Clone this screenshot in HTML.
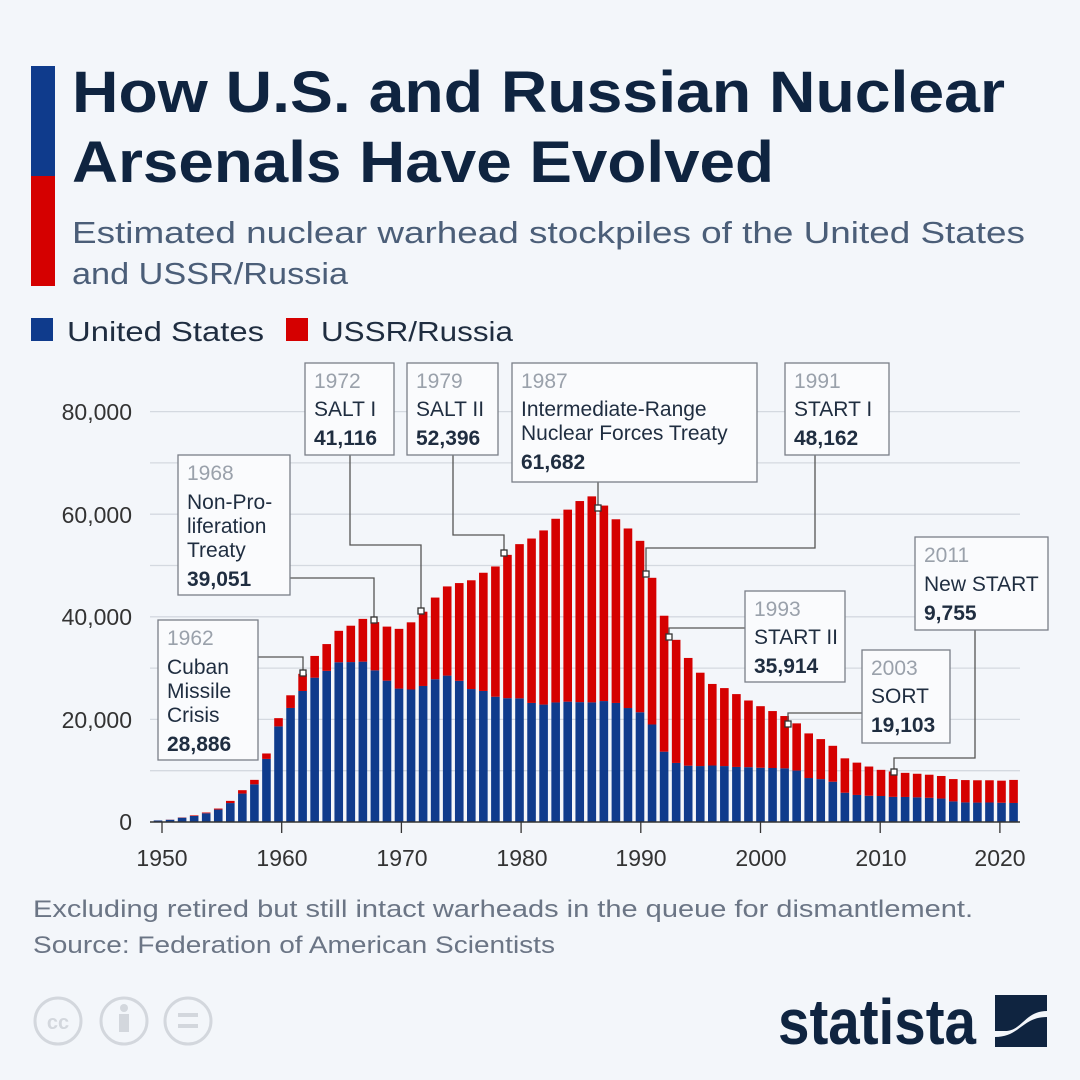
<!DOCTYPE html>
<html><head><meta charset="utf-8"><style>
html,body{margin:0;padding:0;background:#f3f6fa;}
svg{display:block;font-family:"Liberation Sans",sans-serif;}
</style></head><body>
<svg width="1080" height="1080" viewBox="0 0 1080 1080" xmlns="http://www.w3.org/2000/svg">
<rect width="1080" height="1080" fill="#f3f6fa"/>
<rect x="31" y="66" width="24" height="110" fill="#0f3b8c"/>
<rect x="31" y="176" width="24" height="110" fill="#d50000"/>
<text x="72" y="112" font-size="58" font-weight="bold" fill="#0f2440" textLength="933" lengthAdjust="spacingAndGlyphs">How U.S. and Russian Nuclear</text>
<text x="72" y="182" font-size="58" font-weight="bold" fill="#0f2440" textLength="702" lengthAdjust="spacingAndGlyphs">Arsenals Have Evolved</text>
<text x="72" y="243" font-size="31" fill="#4b5e78" textLength="953" lengthAdjust="spacingAndGlyphs">Estimated nuclear warhead stockpiles of the United States</text>
<text x="72" y="284" font-size="31" fill="#4b5e78" textLength="276" lengthAdjust="spacingAndGlyphs">and USSR/Russia</text>
<rect x="31" y="318" width="22" height="23" fill="#0f3b8c"/>
<text x="67" y="341" font-size="28" fill="#1f2d40" textLength="197" lengthAdjust="spacingAndGlyphs">United States</text>
<rect x="286" y="318" width="22" height="23" fill="#d50000"/>
<text x="321" y="341" font-size="28" fill="#1f2d40" textLength="192" lengthAdjust="spacingAndGlyphs">USSR/Russia</text>
<g stroke="#d4d9e0" stroke-width="1.3">
<line x1="150" x2="1020" y1="770.7" y2="770.7"/><line x1="150" x2="1020" y1="719.4" y2="719.4"/><line x1="150" x2="1020" y1="668.1" y2="668.1"/><line x1="150" x2="1020" y1="616.8" y2="616.8"/><line x1="150" x2="1020" y1="565.5" y2="565.5"/><line x1="150" x2="1020" y1="514.2" y2="514.2"/><line x1="150" x2="1020" y1="462.9" y2="462.9"/><line x1="150" x2="1020" y1="411.6" y2="411.6"/>
</g>
<g font-size="23" fill="#333" text-anchor="end">
<text x="132" y="420">80,000</text><text x="132" y="523">60,000</text><text x="132" y="625">40,000</text><text x="132" y="728">20,000</text><text x="132" y="830">0</text>
</g>
<g transform="translate(153.7,822) scale(12.05,-0.00513)" fill="#0f3b8c">
<rect x="0" y="0" width=".714" height="299"/><rect x="1" y="0" width=".714" height="438"/><rect x="2" y="0" width=".714" height="841"/><rect x="3" y="0" width=".714" height="1169"/><rect x="4" y="0" width=".714" height="1703"/><rect x="5" y="0" width=".714" height="2422"/><rect x="6" y="0" width=".714" height="3692"/><rect x="7" y="0" width=".714" height="5543"/><rect x="8" y="0" width=".714" height="7345"/><rect x="9" y="0" width=".714" height="12298"/><rect x="10" y="0" width=".714" height="18638"/><rect x="11" y="0" width=".714" height="22229"/><rect x="12" y="0" width=".714" height="25540"/><rect x="13" y="0" width=".714" height="28133"/><rect x="14" y="0" width=".714" height="29463"/><rect x="15" y="0" width=".714" height="31139"/><rect x="16" y="0" width=".714" height="31175"/><rect x="17" y="0" width=".714" height="31255"/><rect x="18" y="0" width=".714" height="29561"/><rect x="19" y="0" width=".714" height="27552"/><rect x="20" y="0" width=".714" height="26008"/><rect x="21" y="0" width=".714" height="25830"/><rect x="22" y="0" width=".714" height="26516"/><rect x="23" y="0" width=".714" height="27835"/><rect x="24" y="0" width=".714" height="28537"/><rect x="25" y="0" width=".714" height="27519"/><rect x="26" y="0" width=".714" height="25914"/><rect x="27" y="0" width=".714" height="25542"/><rect x="28" y="0" width=".714" height="24418"/><rect x="29" y="0" width=".714" height="24138"/><rect x="30" y="0" width=".714" height="24104"/><rect x="31" y="0" width=".714" height="23208"/><rect x="32" y="0" width=".714" height="22886"/><rect x="33" y="0" width=".714" height="23305"/><rect x="34" y="0" width=".714" height="23459"/><rect x="35" y="0" width=".714" height="23368"/><rect x="36" y="0" width=".714" height="23317"/><rect x="37" y="0" width=".714" height="23575"/><rect x="38" y="0" width=".714" height="23205"/><rect x="39" y="0" width=".714" height="22217"/><rect x="40" y="0" width=".714" height="21392"/><rect x="41" y="0" width=".714" height="19008"/><rect x="42" y="0" width=".714" height="13708"/><rect x="43" y="0" width=".714" height="11511"/><rect x="44" y="0" width=".714" height="10979"/><rect x="45" y="0" width=".714" height="10904"/><rect x="46" y="0" width=".714" height="11011"/><rect x="47" y="0" width=".714" height="10903"/><rect x="48" y="0" width=".714" height="10732"/><rect x="49" y="0" width=".714" height="10685"/><rect x="50" y="0" width=".714" height="10577"/><rect x="51" y="0" width=".714" height="10526"/><rect x="52" y="0" width=".714" height="10457"/><rect x="53" y="0" width=".714" height="10027"/><rect x="54" y="0" width=".714" height="8570"/><rect x="55" y="0" width=".714" height="8360"/><rect x="56" y="0" width=".714" height="7853"/><rect x="57" y="0" width=".714" height="5709"/><rect x="58" y="0" width=".714" height="5273"/><rect x="59" y="0" width=".714" height="5113"/><rect x="60" y="0" width=".714" height="5066"/><rect x="61" y="0" width=".714" height="4897"/><rect x="62" y="0" width=".714" height="4881"/><rect x="63" y="0" width=".714" height="4804"/><rect x="64" y="0" width=".714" height="4717"/><rect x="65" y="0" width=".714" height="4571"/><rect x="66" y="0" width=".714" height="4018"/><rect x="67" y="0" width=".714" height="3822"/><rect x="68" y="0" width=".714" height="3785"/><rect x="69" y="0" width=".714" height="3805"/><rect x="70" y="0" width=".714" height="3750"/><rect x="71" y="0" width=".714" height="3708"/>
</g>
<g transform="translate(153.7,822) scale(12.05,-0.00513)" fill="#d50000">
<rect x="0" y="299" width=".714" height="5"/><rect x="1" y="438" width=".714" height="25"/><rect x="2" y="841" width=".714" height="50"/><rect x="3" y="1169" width=".714" height="120"/><rect x="4" y="1703" width=".714" height="150"/><rect x="5" y="2422" width=".714" height="200"/><rect x="6" y="3692" width=".714" height="426"/><rect x="7" y="5543" width=".714" height="660"/><rect x="8" y="7345" width=".714" height="869"/><rect x="9" y="12298" width=".714" height="1060"/><rect x="10" y="18638" width=".714" height="1605"/><rect x="11" y="22229" width=".714" height="2471"/><rect x="12" y="25540" width=".714" height="3346"/><rect x="13" y="28133" width=".714" height="4238"/><rect x="14" y="29463" width=".714" height="5221"/><rect x="15" y="31139" width=".714" height="6129"/><rect x="16" y="31175" width=".714" height="7089"/><rect x="17" y="31255" width=".714" height="8339"/><rect x="18" y="29561" width=".714" height="9399"/><rect x="19" y="27552" width=".714" height="10538"/><rect x="20" y="26008" width=".714" height="11643"/><rect x="21" y="25830" width=".714" height="13092"/><rect x="22" y="26516" width=".714" height="14478"/><rect x="23" y="27835" width=".714" height="15915"/><rect x="24" y="28537" width=".714" height="17385"/><rect x="25" y="27519" width=".714" height="19055"/><rect x="26" y="25914" width=".714" height="21205"/><rect x="27" y="25542" width=".714" height="23044"/><rect x="28" y="24418" width=".714" height="25393"/><rect x="29" y="24138" width=".714" height="27935"/><rect x="30" y="24104" width=".714" height="30062"/><rect x="31" y="23208" width=".714" height="32049"/><rect x="32" y="22886" width=".714" height="33952"/><rect x="33" y="23305" width=".714" height="35804"/><rect x="34" y="23459" width=".714" height="37431"/><rect x="35" y="23368" width=".714" height="39197"/><rect x="36" y="23317" width=".714" height="40159"/><rect x="37" y="23575" width=".714" height="38107"/><rect x="38" y="23205" width=".714" height="35805"/><rect x="39" y="22217" width=".714" height="35000"/><rect x="40" y="21392" width=".714" height="33417"/><rect x="41" y="19008" width=".714" height="28595"/><rect x="42" y="13708" width=".714" height="26500"/><rect x="43" y="11511" width=".714" height="24000"/><rect x="44" y="10979" width=".714" height="21000"/><rect x="45" y="10904" width=".714" height="18200"/><rect x="46" y="11011" width=".714" height="15900"/><rect x="47" y="10903" width=".714" height="15200"/><rect x="48" y="10732" width=".714" height="14200"/><rect x="49" y="10685" width=".714" height="13000"/><rect x="50" y="10577" width=".714" height="12000"/><rect x="51" y="10526" width=".714" height="11100"/><rect x="52" y="10457" width=".714" height="10200"/><rect x="53" y="10027" width=".714" height="9200"/><rect x="54" y="8570" width=".714" height="8700"/><rect x="55" y="8360" width=".714" height="7800"/><rect x="56" y="7853" width=".714" height="7000"/><rect x="57" y="5709" width=".714" height="6700"/><rect x="58" y="5273" width=".714" height="6300"/><rect x="59" y="5113" width=".714" height="5700"/><rect x="60" y="5066" width=".714" height="5100"/><rect x="61" y="4897" width=".714" height="4950"/><rect x="62" y="4881" width=".714" height="4700"/><rect x="63" y="4804" width=".714" height="4600"/><rect x="64" y="4717" width=".714" height="4500"/><rect x="65" y="4571" width=".714" height="4400"/><rect x="66" y="4018" width=".714" height="4350"/><rect x="67" y="3822" width=".714" height="4350"/><rect x="68" y="3785" width=".714" height="4350"/><rect x="69" y="3805" width=".714" height="4330"/><rect x="70" y="3750" width=".714" height="4310"/><rect x="71" y="3708" width=".714" height="4495"/>
</g>
<line x1="150" y1="822" x2="1020" y2="822" stroke="#333" stroke-width="1.5"/>
<g stroke="#333" stroke-width="1.3">
<line x1="162" x2="162" y1="822" y2="833"/><line x1="281.7" x2="281.7" y1="822" y2="833"/><line x1="401.4" x2="401.4" y1="822" y2="833"/><line x1="521.1" x2="521.1" y1="822" y2="833"/><line x1="640.8" x2="640.8" y1="822" y2="833"/><line x1="760.5" x2="760.5" y1="822" y2="833"/><line x1="880.2" x2="880.2" y1="822" y2="833"/><line x1="999.9" x2="999.9" y1="822" y2="833"/>
</g>
<g font-size="23" fill="#333" text-anchor="middle">
<text x="162" y="866">1950</text><text x="282" y="866">1960</text><text x="402" y="866">1970</text><text x="522" y="866">1980</text><text x="641" y="866">1990</text><text x="761" y="866">2000</text><text x="881" y="866">2010</text><text x="1000" y="866">2020</text>
</g>
<g fill="none" stroke="#555" stroke-width="1.3">
<polyline points="290,578 374,578 374,620"/>
<polyline points="258,657 303,657 303,673"/>
<polyline points="350,455 350,545 421,545 421,611"/>
<polyline points="453,455 453,535 504,535 504,553"/>
<polyline points="598,482 598,508"/>
<polyline points="815,455 815,548 646,548 646,574"/>
<polyline points="745,628 669,628 669,637"/>
<polyline points="862,713 788,713 788,724"/>
<polyline points="975,630 975,758 894,758 894,772"/>
</g>
<g fill="#fff" stroke="#333" stroke-width="1.3">
<rect x="371" y="617" width="6" height="6"/><rect x="300" y="670" width="6" height="6"/><rect x="418" y="608" width="6" height="6"/><rect x="501" y="550" width="6" height="6"/><rect x="595" y="505" width="6" height="6"/><rect x="643" y="571" width="6" height="6"/><rect x="666" y="634" width="6" height="6"/><rect x="785" y="721" width="6" height="6"/><rect x="891" y="769" width="6" height="6"/>
</g>
<g fill="#fafbfd" stroke="#7a7f88" stroke-width="1.3">
<rect x="178" y="455" width="112" height="140"/>
<rect x="158" y="620" width="100" height="140"/>
<rect x="305" y="363" width="89" height="92"/>
<rect x="407" y="363" width="91" height="92"/>
<rect x="512" y="363" width="245" height="119"/>
<rect x="785" y="363" width="104" height="92"/>
<rect x="745" y="591" width="100" height="91"/>
<rect x="862" y="650" width="88" height="93"/>
<rect x="915" y="537" width="133" height="93"/>
</g>
<g font-size="21" fill="#1f2d40">
<text x="187" y="480" fill="#9aa1ab">1968</text><text x="187" y="509">Non-Pro-</text><text x="187" y="533">liferation</text><text x="187" y="557">Treaty</text><text x="187" y="586" font-weight="bold">39,051</text>
<text x="167" y="645" fill="#9aa1ab">1962</text><text x="167" y="674">Cuban</text><text x="167" y="698">Missile</text><text x="167" y="722">Crisis</text><text x="167" y="751" font-weight="bold">28,886</text>
<text x="314" y="388" fill="#9aa1ab">1972</text><text x="314" y="416">SALT I</text><text x="314" y="445" font-weight="bold">41,116</text>
<text x="416" y="388" fill="#9aa1ab">1979</text><text x="416" y="416">SALT II</text><text x="416" y="445" font-weight="bold">52,396</text>
<text x="521" y="388" fill="#9aa1ab">1987</text><text x="521" y="416">Intermediate-Range</text><text x="521" y="440">Nuclear Forces Treaty</text><text x="521" y="469" font-weight="bold">61,682</text>
<text x="794" y="388" fill="#9aa1ab">1991</text><text x="794" y="416">START I</text><text x="794" y="445" font-weight="bold">48,162</text>
<text x="754" y="616" fill="#9aa1ab">1993</text><text x="754" y="644">START II</text><text x="754" y="673" font-weight="bold">35,914</text>
<text x="871" y="675" fill="#9aa1ab">2003</text><text x="871" y="703">SORT</text><text x="871" y="732" font-weight="bold">19,103</text>
<text x="924" y="562" fill="#9aa1ab">2011</text><text x="924" y="591">New START</text><text x="924" y="620" font-weight="bold">9,755</text>
</g>
<text x="33" y="917" font-size="24" fill="#6b7585" textLength="940" lengthAdjust="spacingAndGlyphs">Excluding retired but still intact warheads in the queue for dismantlement.</text>
<text x="33" y="953" font-size="24" fill="#6b7585" textLength="522" lengthAdjust="spacingAndGlyphs">Source: Federation of American Scientists</text>
<g fill="none" stroke="#d3d7dd" stroke-width="3">
<circle cx="58" cy="1021" r="23"/><circle cx="124" cy="1021" r="23"/><circle cx="188" cy="1021" r="23"/>
</g>
<text x="58" y="1029" font-size="20" font-weight="bold" fill="#d3d7dd" text-anchor="middle">cc</text>
<circle cx="124" cy="1008" r="4" fill="#d3d7dd"/><rect x="119" y="1014" width="10" height="18" fill="#d3d7dd"/>
<rect x="178" y="1013" width="20" height="4" fill="#d3d7dd"/><rect x="178" y="1024" width="20" height="4" fill="#d3d7dd"/>
<text x="778" y="1044" font-size="64" font-weight="bold" fill="#0f2440" textLength="198" lengthAdjust="spacingAndGlyphs">statista</text>
<path d="M995,995 H1047 V1011 C1025,1011 1022,1031 1005,1031 H995 Z" fill="#0f2440"/>
<path d="M1047,1017 V1047 H995 V1037 C1020,1037 1022,1017 1047,1017 Z" fill="#0f2440"/>
</svg>
</body></html>
